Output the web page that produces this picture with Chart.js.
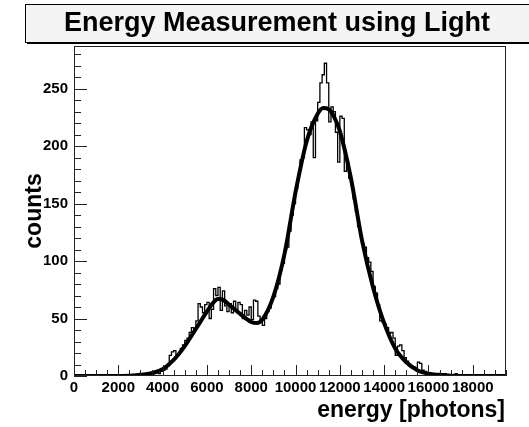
<!DOCTYPE html>
<html lang="en">
<head>
    <meta charset="UTF-8">
    <title>Energy Measurement using Light</title>
    <style>
        body {
            margin: 0;
            background: #fff;
        }
        #chart-container {
            width: 529px;
            height: 427px;
        }
    </style>
    <script src="https://cdn.jsdelivr.net/npm/chart.js"></script>
</head>
<body>
    <div id="chart-container">
        <canvas id="energyChart"></canvas>
    </div>

    <script>
        // histogram: 100-photon bins starting at 0
        const binWidth = 100;
        const counts = [
            0, 0, 0, 0, 0, 0, 0, 0, 0, 0,
            0, 0, 0, 0, 0, 0, 0, 0, 0, 0,
            0, 0, 0, 0, 0, 0, 0, 0, 1, 0,
            0, 1, 0, 1, 2, 1, 2, 3, 2, 4,
            5, 6, 9, 18, 21, 22, 17, 19, 24, 27,
            31, 33, 38, 42, 41, 48, 63, 60, 55, 62,
            64, 50, 58, 76, 70, 77, 57, 74, 61, 56,
            63, 55, 65, 58, 64, 62, 50, 57, 53, 60,
            49, 66, 65, 52, 48, 44, 50, 56, 59, 66,
            69, 76, 80, 92, 98, 110, 112, 126, 140, 150,
            163, 175, 188, 190, 216, 214, 210, 221, 190, 222,
            238, 255, 262, 272, 255, 221, 234, 230, 212, 186,
            226, 224, 178, 186, 172, 166, 154, 143, 130, 122,
            115, 112, 103, 99, 91, 78, 72, 62, 48, 47,
            45, 42, 37, 38, 33, 18, 26, 27, 22, 16,
            13, 10, 9, 8, 7, 12, 11, 5, 4, 3,
            3, 2, 1, 2, 1, 0, 1, 2, 1, 0,
            1, 0, 2, 1, 0, 1, 0, 0, 1, 0,
            0, 1, 0, 0, 1, 0, 0, 0, 1, 0, 0, 0, 1, 0, 0
        ];

        // fitted curve (two peaks)
        const fitEnergy = [0, 1000, 2000, 2500, 3000, 3500, 4000, 4500, 5000, 5500,
            6000, 6250, 6500, 6750, 7000, 7500, 8000, 8250, 8500, 9000,
            9500, 10000, 10500, 11000, 11250, 11500, 11750, 12000, 12500, 13000,
            13500, 14000, 14500, 15000, 15500, 16000, 16500, 17000, 18000, 19500];
        const fitCounts = [0, 0, 0, 0.3, 1, 2.5, 6, 14, 26, 41,
            56, 63, 67, 66, 62, 54, 47, 46, 49, 69,
            106, 160, 204, 228, 233, 232, 225, 213, 172, 118,
            77, 46, 24, 12, 5, 2, 1, 0.3, 0, 0];

        const xTickValues = [0, 2000, 4000, 6000, 8000, 10000, 12000, 14000, 16000, 18000];
        const yTickValues = [0, 50, 100, 150, 200, 250];
        const xMinorStep = 500;
        const yMinorStep = 10;
        const xRange = [0, 19500];
        const yRange = [0, 287];

        const titleText = 'Energy Measurement using Light';
        const xTitle = 'energy [photons]';
        const yTitle = 'counts';
        const fontFamily = '"Liberation Sans", Arial, sans-serif';

        // step outline points (left edge of each bin + closing right edge)
        const histPoints = counts.map((c, i) => ({ x: i * binWidth, y: c }));
        histPoints.push({ x: counts.length * binWidth, y: counts[counts.length - 1] });
        const fitPoints = fitEnergy.map((e, i) => ({ x: e, y: fitCounts[i] }));

        // ROOT-like frame, inward ticks, title box and axis titles
        const rootStyle = {
            id: 'rootStyle',
            beforeDraw(chart) {
                const ctx = chart.ctx;
                ctx.save();
                ctx.fillStyle = '#fff';
                ctx.fillRect(0, 0, chart.width, chart.height);

                // title box with shadow
                ctx.fillStyle = '#000';
                ctx.fillRect(27, 42, 520, 2);
                ctx.fillStyle = '#f4f4f4';
                ctx.fillRect(25, 4, 520, 38);
                ctx.strokeStyle = '#000';
                ctx.lineWidth = 1;
                ctx.strokeRect(25.5, 4.5, 520, 38);
                ctx.fillStyle = '#000';
                ctx.font = 'bold 27px ' + fontFamily;
                ctx.textAlign = 'center';
                ctx.textBaseline = 'middle';
                ctx.fillText(titleText, 277, 24);
                ctx.restore();
            },
            afterDraw(chart) {
                const ctx = chart.ctx;
                const a = chart.chartArea;
                const xs = chart.scales.x;
                const ys = chart.scales.y;
                ctx.save();

                // frame
                ctx.strokeStyle = '#222';
                ctx.lineWidth = 1;
                ctx.strokeRect(a.left + 0.5, a.top + 0.5, a.right - a.left - 1, a.bottom - a.top - 1);

                ctx.beginPath();
                // x ticks
                for (let v = xRange[0]; v <= xRange[1]; v += xMinorStep) {
                    const px = Math.round(xs.getPixelForValue(v)) + 0.5;
                    const len = (v % 2000 === 0) ? 11 : 6;
                    ctx.moveTo(px, a.bottom);
                    ctx.lineTo(px, a.bottom - len);
                }
                // y ticks
                for (let v = yRange[0]; v <= yRange[1]; v += yMinorStep) {
                    const py = Math.round(ys.getPixelForValue(v)) + 0.5;
                    const len = (v % 50 === 0) ? 13 : 7;
                    ctx.moveTo(a.left, py);
                    ctx.lineTo(a.left + len, py);
                }
                ctx.stroke();

                // axis titles
                ctx.fillStyle = '#000';
                ctx.font = 'bold 23px ' + fontFamily;
                ctx.textAlign = 'right';
                ctx.textBaseline = 'alphabetic';
                ctx.fillText(xTitle, 505, 417);

                ctx.translate(41, 211);
                ctx.rotate(-Math.PI / 2);
                ctx.textAlign = 'center';
                ctx.fillText(yTitle, 0, 0);
                ctx.restore();
            }
        };

        const tickFont = { family: fontFamily, size: 15, weight: 'bold' };

        new Chart(document.getElementById('energyChart'), {
            type: 'line',
            data: {
                datasets: [
                    {
                        label: 'fit',
                        data: fitPoints,
                        borderColor: '#000',
                        borderWidth: 4,
                        pointRadius: 0,
                        fill: false,
                        cubicInterpolationMode: 'monotone'
                    },
                    {
                        label: 'histogram',
                        data: histPoints,
                        borderColor: '#000',
                        borderWidth: 1.3,
                        pointRadius: 0,
                        fill: false,
                        stepped: 'before'
                    }
                ]
            },
            options: {
                responsive: true,
                maintainAspectRatio: false,
                animation: false,
                layout: { padding: { top: 46, right: 23, left: 0, bottom: 0 } },
                plugins: {
                    legend: { display: false },
                    tooltip: { enabled: false },
                    title: { display: false }
                },
                scales: {
                    x: {
                        type: 'linear',
                        min: xRange[0],
                        max: xRange[1],
                        grid: { display: false, drawTicks: false },
                        border: { display: false },
                        ticks: {
                            font: tickFont, color: '#000', padding: 3, autoSkip: false, maxRotation: 0,
                            callback: v => String(v)
                        },
                        afterBuildTicks: s => { s.ticks = xTickValues.map(v => ({ value: v })); },
                        afterFit: s => { s.height = 51; }
                    },
                    y: {
                        type: 'linear',
                        min: yRange[0],
                        max: yRange[1],
                        grid: { display: false, drawTicks: false },
                        border: { display: false },
                        ticks: {
                            font: tickFont, color: '#000', padding: 6, autoSkip: false,
                            callback: v => String(v)
                        },
                        afterBuildTicks: s => { s.ticks = yTickValues.map(v => ({ value: v })); },
                        afterFit: s => { s.width = 74; }
                    }
                }
            },
            plugins: [rootStyle]
        });
    </script>
</body>
</html>
